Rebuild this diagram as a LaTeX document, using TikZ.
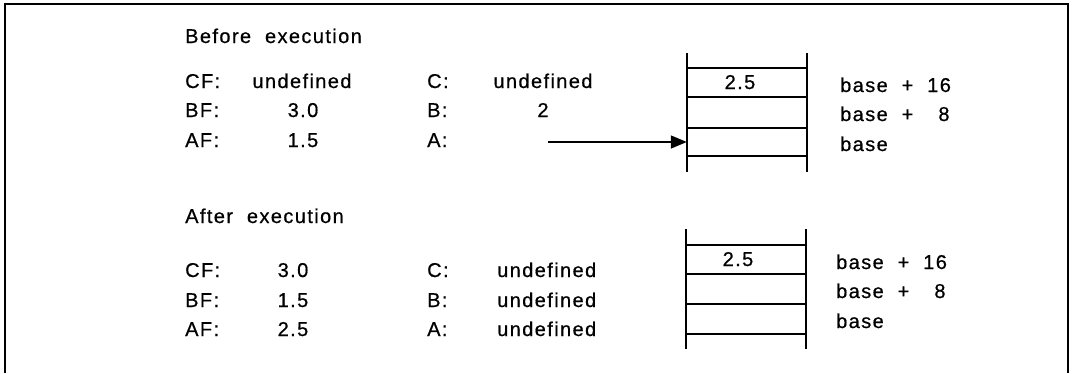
\documentclass[tikz,border=0pt]{standalone}
\usepackage{fontspec}
\setmainfont{Liberation Sans}[LetterSpace=7,FakeBold=0.6]
\usetikzlibrary{arrows.meta}
\begin{document}
\begin{tikzpicture}[x=1pt,y=-1pt,
  txt/.style={inner sep=0pt,anchor=base west,font=\fontsize{20}{22}\selectfont},
  ctxt/.style={txt,anchor=base},
  rule/.style={line width=1.6pt},
  cell/.style={inner sep=0pt,minimum width=120pt,minimum height=28pt}]
\useasboundingbox (0,0) rectangle (1075,373);
% frame
\draw[rule] (5,373) -- (5,4) -- (1068,4) -- (1068,373);
% ---------- before ----------
\node[txt] (bhead) at (185,43) {Before\ \ execution};
\node[txt] (bcf) at (185,88) {CF:};
\node[txt] (bbf) at (185,117) {BF:};
\node[txt] (baf) at (185,147) {AF:};
\node[ctxt] (bcfv) at (302,88) {undefined};
\node[ctxt] (bbfv) at (303,117) {3.0};
\node[ctxt] (bafv) at (303,147) {1.5};
\node[txt] (bc) at (427,88) {C:};
\node[txt] (bb) at (427,117) {B:};
\node[txt] (ba) at (427,147) {A:};
\node[ctxt] (bcv) at (543,88) {undefined};
\node[ctxt] (bbv) at (543,117) {2};
\coordinate (aptr) at (548,142);
% stack
\draw[rule] (687,53) -- (687,172);
\draw[rule] (807,53) -- (807,172);
\draw[rule] (687,68) -- (807,68);
\draw[rule] (687,97) -- (807,97);
\draw[rule] (687,128) -- (807,128);
\draw[rule] (687,156) -- (807,156);
\node[cell] (bs1) at (747,82.5) {};
\node[cell] (bs2) at (747,112.5) {};
\node[cell] (bs3) at (747,142) {};
\node[ctxt] (bval) at (740,89) {2.5};
\node[txt] (bl16) at (840,92) {base\ \ +\ \ 16};
\node[txt] (bl8) at (840,121) {base\ \ +\ \ \phantom{1}8};
\node[txt] (bl0) at (840,151) {base};
\draw[line width=1.4pt,-{Triangle[length=16pt,width=13pt]}] (aptr) -- (bs3.west);
% ---------- after ----------
\node[txt] (ahead) at (185,223) {After\ \ execution};
\node[txt] (acf) at (185,277) {CF:};
\node[txt] (abf) at (185,307) {BF:};
\node[txt] (aaf) at (185,336) {AF:};
\node[ctxt] (acfv) at (293,277) {3.0};
\node[ctxt] (abfv) at (293,307) {1.5};
\node[ctxt] (aafv) at (293,336) {2.5};
\node[txt] (ac) at (427,277) {C:};
\node[txt] (ab) at (427,307) {B:};
\node[txt] (aa) at (427,336) {A:};
\node[txt] (acv) at (497,277) {undefined};
\node[txt] (abv) at (497,307) {undefined};
\node[txt] (aav) at (497,336) {undefined};
\draw[rule] (686,229) -- (686,349);
\draw[rule] (806,229) -- (806,349);
\draw[rule] (686,245) -- (806,245);
\draw[rule] (686,274) -- (806,274);
\draw[rule] (686,304) -- (806,304);
\draw[rule] (686,334) -- (806,334);
\node[ctxt] (aval) at (738,266) {2.5};
\node[txt] (al16) at (836,269) {base\ \ +\ \ 16};
\node[txt] (al8) at (836,298) {base\ \ +\ \ \phantom{1}8};
\node[txt] (al0) at (836,328) {base};
\end{tikzpicture}
\end{document}
